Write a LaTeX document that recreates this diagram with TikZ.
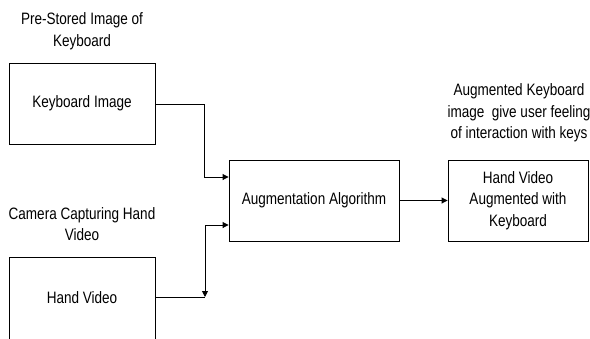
\documentclass[tikz,border=0pt]{standalone}
\usepackage{fontspec}
\setmainfont{Liberation Sans}[FakeStretch=0.82]
\usetikzlibrary{arrows.meta}
\tikzset{
  blk/.style={draw, line width=0.9pt, inner sep=0pt, align=center},
  lbl/.style={align=center, inner sep=0pt},
  link/.style={line width=0.9pt, -{Triangle[length=6pt,width=6pt]}},
  every node/.style={font=\fontsize{16.5}{21.5}\selectfont}
}
\begin{document}
\begin{tikzpicture}[x=1pt, y=-1pt]
  \clip (0,0) rectangle (590,338);
  \fill[white] (0,0) rectangle (590,338);

  % input blocks
  \node[blk, minimum width=146pt, minimum height=81pt] (kb) at (82,103.5) {Keyboard Image};
  \node[blk, minimum width=146pt, minimum height=100pt] (hv) at (82,307) {};
  \node[lbl] (hvt) at (82,298) {Hand Video};

  % processing and output blocks
  \node[blk, minimum width=170pt, minimum height=81pt] (aa) at (314,200.5) {Augmentation Algorithm};
  \node[blk, minimum width=140pt, minimum height=81pt] (out) at (518,200.5) {Hand Video\\Augmented with\\Keyboard};

  % captions
  \node[lbl] (cap1) at (82,31) {Pre-Stored Image of\\Keyboard};
  \node[lbl] (cap2) at (82,224) {Camera Capturing Hand\\Video};
  \node[lbl] (cap3) at (519,113) {Augmented Keyboard\\image\ \ give user feeling\\of interaction with keys};

  % connectors
  \coordinate (k1) at (204,104);
  \coordinate (k2) at (204,177);
  \coordinate (h1) at (205,297);
  \coordinate (h2) at (205,225);
  \draw[link] (kb.east |- k1) -- (k1) -- (k2) -- (aa.west |- k2);
  \draw[line width=0.9pt] (hv.east |- h1) -- (h1);
  \draw[line width=0.9pt, {Triangle[length=6pt,width=6pt]}-{Triangle[length=6pt,width=6pt]}] (h1) -- (h2) -- (aa.west |- h2);
  \draw[link] (aa.east) -- (out.west);
\end{tikzpicture}
\end{document}
